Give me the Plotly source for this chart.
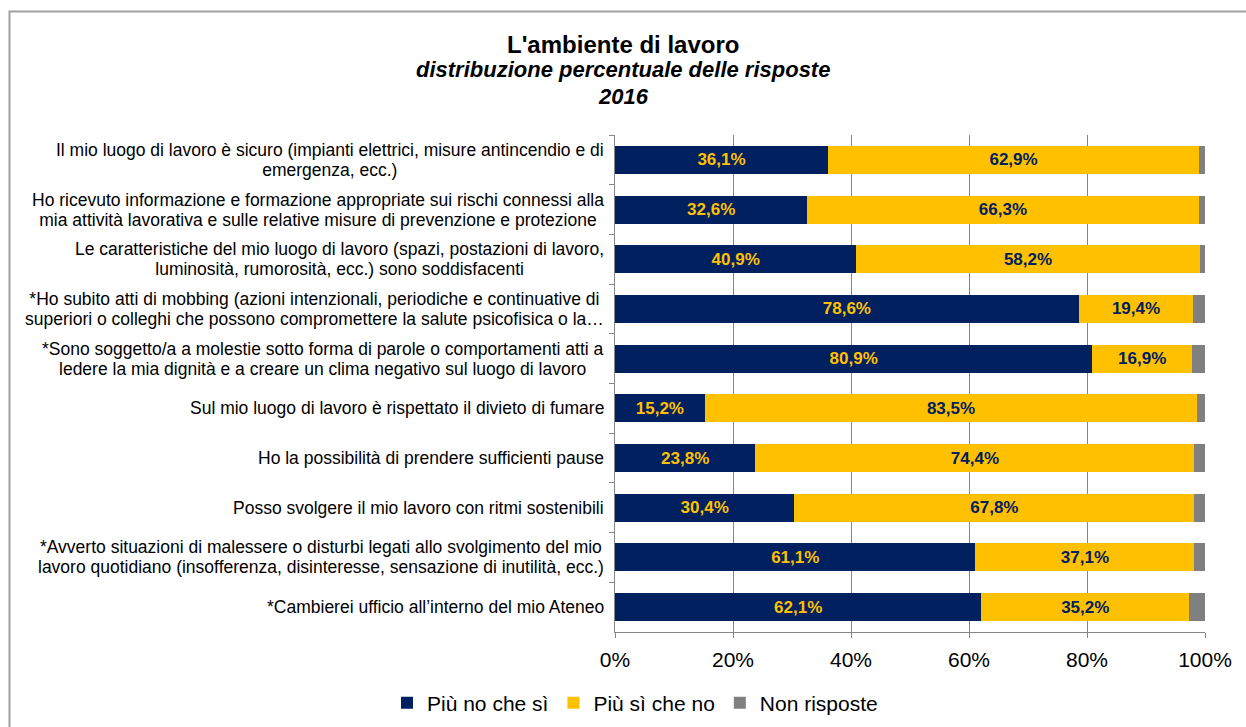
import plotly.graph_objects as go

# Survey statements (top to bottom) and response shares in percent
categories = [
    "Il mio luogo di lavoro è sicuro (impianti elettrici, misure antincendio e di<br>emergenza, ecc.)",
    "Ho ricevuto informazione e formazione appropriate sui rischi connessi alla<br>mia attività lavorativa e sulle relative misure di prevenzione e protezione",
    "Le caratteristiche del mio luogo di lavoro (spazi, postazioni di lavoro,<br>luminosità, rumorosità, ecc.) sono soddisfacenti",
    "*Ho subito atti di mobbing (azioni intenzionali, periodiche e continuative di<br>superiori o colleghi che possono compromettere la salute psicofisica o la…",
    "*Sono soggetto/a a molestie sotto forma di parole o comportamenti atti a<br>ledere la mia dignità e a creare un clima negativo sul luogo di lavoro",
    "Sul mio luogo di lavoro è rispettato il divieto di fumare",
    "Ho la possibilità di prendere sufficienti pause",
    "Posso svolgere il mio lavoro con ritmi sostenibili",
    "*Avverto situazioni di malessere o disturbi legati allo svolgimento del mio<br>lavoro quotidiano (insofferenza, disinteresse, sensazione di inutilità, ecc.)",
    "*Cambierei ufficio all’interno del mio Ateneo",
]
piu_no = [36.1, 32.6, 40.9, 78.6, 80.9, 15.2, 23.8, 30.4, 61.1, 62.1]
piu_si = [62.9, 66.3, 58.2, 19.4, 16.9, 83.5, 74.4, 67.8, 37.1, 35.2]
non_risposte = [1.0, 1.1, 0.9, 2.0, 2.2, 1.3, 1.8, 1.8, 1.8, 2.7]

series_names = ["Più no che sì", "Più sì che no", "Non risposte"]
tick_values = [0, 20, 40, 60, 80, 100]
tick_labels = ["0%", "20%", "40%", "60%", "80%", "100%"]

NAVY = "#002060"
GOLD = "#FFC000"
GREY = "#808080"
FONT = "Arial, Liberation Sans, sans-serif"

W, H = 1246, 727
M_L, M_R, M_T, M_B = 615, 41, 135, 95
PW, PH = W - M_L - M_R, H - M_T - M_B


def px_x(px):
    return (px - M_L) / PW


def px_y(py):
    return (H - M_B - py) / PH


fig = go.Figure()

fig.add_trace(go.Bar(
    y=categories, x=piu_no, name=series_names[0], orientation="h",
    marker=dict(color=NAVY, line=dict(width=0)),
    texttemplate="%{x:.1f}%", textposition="inside", insidetextanchor="middle",
    textangle=0, textfont=dict(family=FONT, size=17, color=GOLD, weight="bold"),
    hoverinfo="skip",
))
fig.add_trace(go.Bar(
    y=categories, x=piu_si, name=series_names[1], orientation="h",
    marker=dict(color=GOLD, line=dict(width=0)),
    texttemplate="%{x:.1f}%", textposition="inside", insidetextanchor="middle",
    textangle=0, textfont=dict(family=FONT, size=17, color=NAVY, weight="bold"),
    hoverinfo="skip",
))
fig.add_trace(go.Bar(
    y=categories, x=non_risposte, name=series_names[2], orientation="h",
    marker=dict(color=GREY, line=dict(width=0)),
    hoverinfo="skip",
))

annotations = []
# statement labels, right-aligned block with centred lines
for cat in categories:
    annotations.append(dict(
        x=px_x(606), xref="paper", y=cat, yref="y",
        xanchor="right", yanchor="middle", align="center",
        text="<span style='font-size:17.5px'>" + cat + "</span>",
        showarrow=False, font=dict(family=FONT, size=15.4, color="#000000"),
    ))

# title block
title_lines = [
    ("<b>L'ambiente di lavoro</b>", 24, 44),
    ("<b><i>distribuzione percentuale delle risposte</i></b>", 22, 70),
    ("<b><i>2016</i></b>", 22, 96),
]
for txt, size, yc in title_lines:
    annotations.append(dict(
        x=px_x(623), xref="paper", y=px_y(yc), yref="paper",
        xanchor="center", yanchor="middle", text=txt, showarrow=False,
        font=dict(family=FONT, size=size, color="#000000"),
    ))

fig.update_layout(
    width=W, height=H,
    margin=dict(l=M_L, r=M_R, t=M_T, b=M_B, pad=0, autoexpand=False),
    paper_bgcolor="white", plot_bgcolor="white",
    barmode="stack", bargap=0.437,
    separators=",.",
    font=dict(family=FONT, color="#000000"),
    showlegend=True,
    legend=dict(
        orientation="h", x=px_x(635), xanchor="center",
        y=px_y(703), yanchor="middle",
        font=dict(family=FONT, size=21, color="#000000"),
        itemwidth=30, traceorder="normal",
        bgcolor="rgba(0,0,0,0)",
    ),
    annotations=annotations,
    shapes=[dict(
        type="rect", xref="paper", yref="paper",
        x0=px_x(9.5), x1=px_x(1262), y0=px_y(11.5), y1=px_y(745),
        line=dict(color="#A0A0A0", width=2), fillcolor="rgba(0,0,0,0)",
        layer="below",
    )],
)

fig.update_xaxes(
    range=[0, 100], tickmode="array", tickvals=tick_values, ticktext=tick_labels,
    showgrid=True, gridcolor="#868686", gridwidth=1,
    showline=True, linecolor="#868686", linewidth=1,
    ticks="outside", ticklen=5, tickcolor="#868686", ticklabelstandoff=4,
    zeroline=False,
    tickfont=dict(family=FONT, size=21, color="#000000"),
)
fig.update_yaxes(
    categoryorder="array", categoryarray=categories,
    autorange="reversed",
    showticklabels=False, showgrid=False,
    showline=True, linecolor="#868686", linewidth=1,
    ticks="outside", ticklen=5, tickcolor="#868686", tickson="boundaries",
    zeroline=False,
)

fig.write_html("out.html")
